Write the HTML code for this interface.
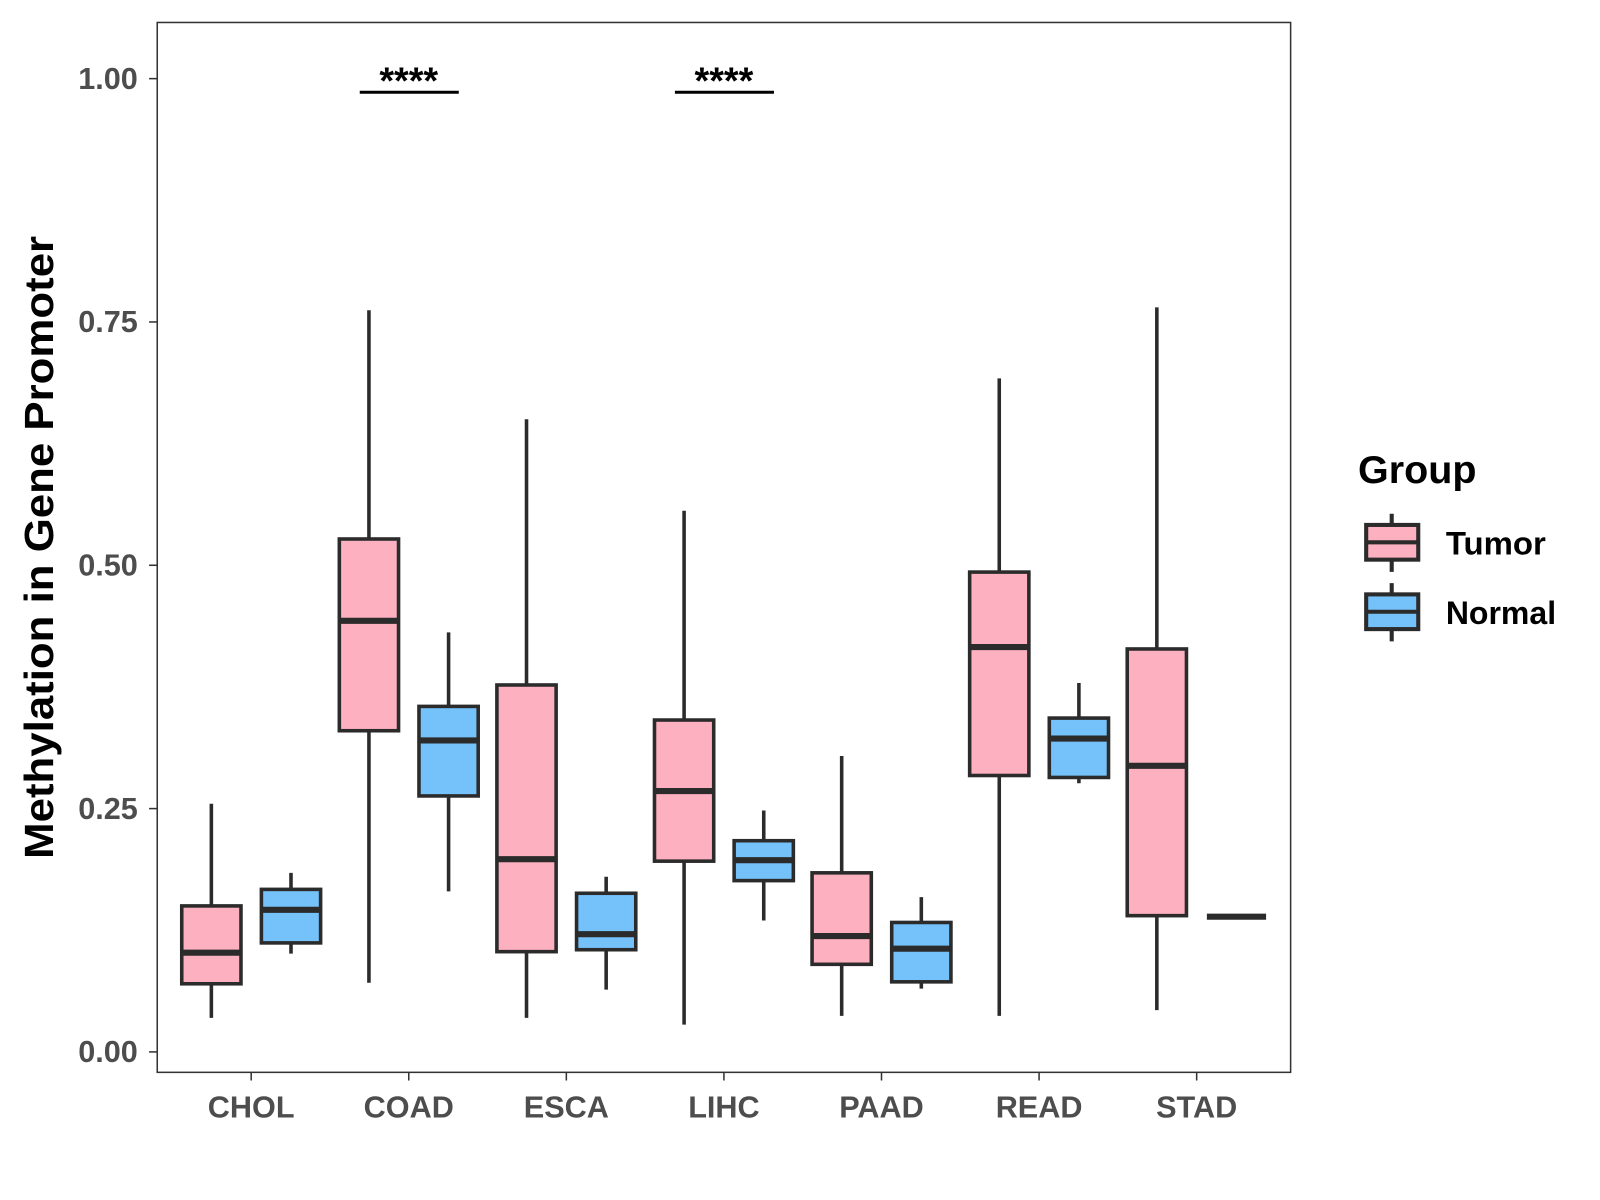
<!DOCTYPE html>
<html><head><meta charset="utf-8"><style>
html,body{margin:0;padding:0;background:#fff;}
svg{display:block;font-family:"Liberation Sans",Arial,sans-serif;font-weight:bold;}
</style></head><body>
<svg id="chart" width="1600" height="1200" viewBox="0 0 1567 1175" preserveAspectRatio="none">
<rect x="0" y="0" width="1567" height="1175" fill="#fff"/>
<g id="marks"></g>
<rect x="154" y="22" width="1110" height="1028" fill="none" stroke="#333" stroke-width="1.5"/>
<g id="axes"></g>
<text x="52" y="536" transform="rotate(-90 52 536)" text-anchor="middle" font-size="40" textLength="610" lengthAdjust="spacingAndGlyphs" fill="#000">Methylation in Gene Promoter</text>
<g>
<text x="1330" y="473" font-size="38" fill="#000" textLength="116" lengthAdjust="spacingAndGlyphs">Group</text>
<g>
<line x1="1363" y1="503" x2="1363" y2="560" stroke="#2b2b2b" stroke-width="4"/>
<rect x="1338" y="514" width="51" height="34" fill="#FDB0C0" stroke="#2b2b2b" stroke-width="4"/>
<line x1="1338" y1="531" x2="1389" y2="531" stroke="#2b2b2b" stroke-width="4"/>
<text x="1416" y="543" font-size="32" fill="#000" textLength="98" lengthAdjust="spacingAndGlyphs">Tumor</text>
</g>
<g>
<line x1="1363" y1="571" x2="1363" y2="628" stroke="#2b2b2b" stroke-width="4"/>
<rect x="1338" y="582" width="51" height="34" fill="#75C1F9" stroke="#2b2b2b" stroke-width="4"/>
<line x1="1338" y1="599" x2="1389" y2="599" stroke="#2b2b2b" stroke-width="4"/>
<text x="1416" y="611" font-size="32" fill="#000" textLength="108" lengthAdjust="spacingAndGlyphs">Normal</text>
</g>
</g>
</svg>
<script>
const categories = ["CHOL","COAD","ESCA","LIHC","PAAD","READ","STAD"];
// [lowWhisker, q1, median, q3, highWhisker]
const tumorStats = [
 [0.035,0.070,0.102,0.150,0.255],
 [0.071,0.330,0.443,0.527,0.762],
 [0.035,0.103,0.198,0.377,0.650],
 [0.028,0.196,0.268,0.341,0.556],
 [0.037,0.090,0.119,0.184,0.304],
 [0.037,0.284,0.416,0.493,0.692],
 [0.043,0.140,0.294,0.414,0.765]
];
const normalStats = [
 [0.101,0.112,0.146,0.167,0.184],
 [0.165,0.263,0.320,0.355,0.431],
 [0.064,0.105,0.121,0.163,0.180],
 [0.135,0.176,0.197,0.217,0.248],
 [0.065,0.072,0.106,0.133,0.159],
 [0.276,0.282,0.322,0.343,0.379],
 [0.139,0.139,0.139,0.139,0.139]
];
const yTicks = [0, 0.25, 0.5, 0.75, 1.0];
const yTickLabels = ["0.00","0.25","0.50","0.75","1.00"];
const sigCategories = ["COAD","LIHC"];
const sigLabels = ["****","****"];
const sigLevel = 0.986;

const NS="http://www.w3.org/2000/svg";
const y = v => 1030 - v*953;
const x = i => 246 + i*154.33;
const marks = document.getElementById('marks');
const axes = document.getElementById('axes');
function mk(tag, attrs, parent){const e=document.createElementNS(NS,tag);for(const k in attrs)e.setAttribute(k,attrs[k]);parent.appendChild(e);return e;}

function drawBox(cx, s, fill, name){
  const g = mk('g',{},marks);
  
  
  const hw=29, st={stroke:"#2b2b2b","stroke-width":3.5};
  mk('line',Object.assign({x1:cx,x2:cx,y1:y(s[4]),y2:y(s[0])},st),g);
  mk('rect',Object.assign({x:cx-hw,y:y(s[3]),width:hw*2,height:Math.max(0,y(s[1])-y(s[3])),fill:fill},st),g);
  mk('line',{x1:cx-hw,x2:cx+hw,y1:y(s[2]),y2:y(s[2]),stroke:"#2b2b2b","stroke-width":6},g);
}
categories.forEach((c,i)=>{
  drawBox(x(i)-39, tumorStats[i], "#FDB0C0", 'box-tumor-'+c.toLowerCase());
  drawBox(x(i)+39, normalStats[i], "#75C1F9", 'box-normal-'+c.toLowerCase());
  const t = mk('line',{x1:x(i),x2:x(i),y1:1050,y2:1058,stroke:"#333","stroke-width":1.5},axes);
  
  
  const l = mk('text',{x:x(i),y:1094,"text-anchor":"middle","font-size":30,fill:"#4d4d4d"},axes);
  l.textContent=c;
  
  
});
yTicks.forEach((v,i)=>{
  const t = mk('line',{x1:146,x2:154,y1:y(v),y2:y(v),stroke:"#333","stroke-width":1.5},axes);
  
  
  const l = mk('text',{x:135,y:y(v)+10,"text-anchor":"end","font-size":30,fill:"#4d4d4d"},axes);
  l.textContent=yTickLabels[i];
  
  
});
sigCategories.forEach((c,j)=>{
  const i = categories.indexOf(c);
  const ln = mk('line',{x1:x(i)-48,x2:x(i)+49,y1:y(sigLevel),y2:y(sigLevel),stroke:"#000","stroke-width":3},marks);
  
  
  const tx = mk('text',{x:x(i),y:y(sigLevel)+1,"text-anchor":"middle","font-size":37,fill:"#000"},marks);
  tx.textContent = sigLabels[j];
  
  
});
</script>
</body></html>
